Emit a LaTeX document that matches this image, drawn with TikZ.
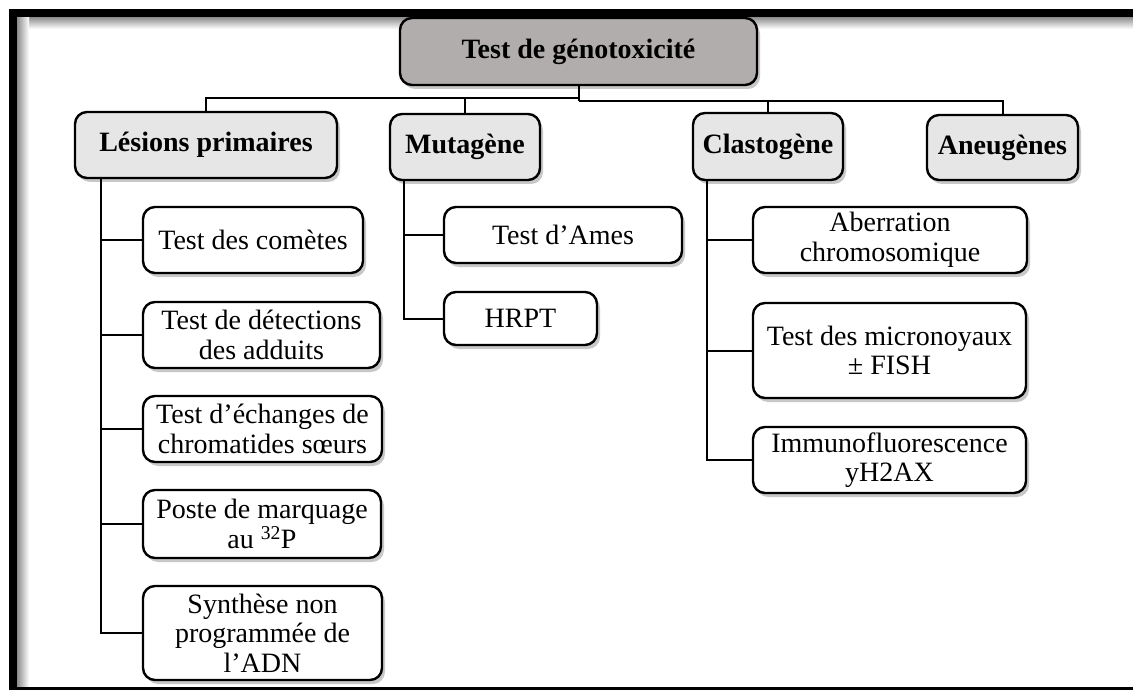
\documentclass[tikz,border=0pt]{standalone}
\usepackage{fontspec}
\setmainfont{Liberation Serif}
\usetikzlibrary{shadows,calc}
\tikzset{
  base/.style={draw=black, line width=2.4pt, rounded corners=12pt, inner sep=0pt, align=center,
    font=\fontsize{28}{29.5}\selectfont,
    drop shadow={shadow xshift=3pt, shadow yshift=-4pt, opacity=0.3, fill=black!70}},
  rootbox/.style={base, fill=rootgray, font=\fontsize{28}{29.5}\selectfont\bfseries},
  catbox/.style={base, fill=catgray, font=\fontsize{28}{29.5}\selectfont\bfseries},
  leafbox/.style={base, fill=white},
  conn/.style={draw=black, line width=2pt}
}
\definecolor{rootgray}{HTML}{B1ADAC}
\definecolor{catgray}{HTML}{E6E6E6}
\begin{document}
\begin{tikzpicture}[x=1pt,y=-1pt]
\useasboundingbox (0,0) rectangle (1133,690);
\fill[white] (0,0) rectangle (1133,690);
% frame
\shade[top color=black!45, bottom color=white] (17,17) rectangle (1133,29);
\shade[left color=black!45, right color=white] (17,17) rectangle (29,688);
\fill[black] (9,9) rectangle (1133,17);
\fill[black] (9,9) rectangle (17,690);
\fill[black] (17,687) rectangle (1133,689.5);

% nodes
\node[rootbox, minimum width=357pt, minimum height=67pt] (root) at (578.5,51.5) {Test de génotoxicité};
\node[catbox, minimum width=262pt, minimum height=66pt] (les) at (206,145) {Lésions primaires};
\node[catbox, minimum width=150pt, minimum height=66pt] (mut) at (465,147) {Mutagène};
\node[catbox, minimum width=150pt, minimum height=67pt] (cla) at (768,146.5) {Clastogène};
\node[catbox, minimum width=151pt, minimum height=65pt] (ane) at (1002.5,147.5) {Aneugènes};

\node[leafbox, minimum width=220pt, minimum height=66pt] (comet) at (253,240) {Test des comètes};
\node[leafbox, minimum width=237pt, minimum height=66pt] (add) at (261.5,335) {Test de détections\\des adduits};
\node[leafbox, minimum width=239pt, minimum height=66pt] (ech) at (262.5,429) {Test d’échanges de\\chromatides sœurs};
\node[leafbox, minimum width=238pt, minimum height=68pt] (poste) at (262,524) {Poste de marquage\\au \textsuperscript{32}P};
\node[leafbox, minimum width=239pt, minimum height=94pt] (synth) at (262.5,633) {Synthèse non\\programmée de\\l’ADN};

\node[leafbox, minimum width=238pt, minimum height=56pt] (ames) at (563,235) {Test d’Ames};
\node[leafbox, minimum width=153pt, minimum height=53pt] (hrpt) at (520.5,318.5) {HRPT};

\node[leafbox, minimum width=274pt, minimum height=66pt] (aber) at (890,240) {Aberration\\chromosomique};
\node[leafbox, minimum width=273pt, minimum height=95pt] (micro) at (889.5,350.5) {Test des micronoyaux\\± FISH};
\node[leafbox, minimum width=273pt, minimum height=66pt] (immu) at (889.5,460) {Immunofluorescence\\yH2AX};

% connectors
\coordinate (jl) at ($(root.south)+(0,12)$);
\coordinate (jr) at ($(root.south)+(0,15)$);
\draw[conn] (root.south) -- (jr);
\draw[conn] (jl) -| (les.north);
\draw[conn] (jl) -| (mut.north);
\draw[conn] (jr) -| (cla.north);
\draw[conn] (jr) -| (ane.north);

\coordinate (lv) at ($(les.south west)+(27,0)$);
\draw[conn] (lv) |- (comet.west);
\draw[conn] (lv) |- (add.west);
\draw[conn] (lv) |- (ech.west);
\draw[conn] (lv) |- (poste.west);
\draw[conn] (lv) |- (synth.west);

\coordinate (mv) at ($(mut.south west)+(15,0)$);
\draw[conn] (mv) |- (ames.west);
\draw[conn] (mv) |- (hrpt.west);

\coordinate (cv) at ($(cla.south west)+(15,0)$);
\draw[conn] (cv) |- (aber.west);
\draw[conn] (cv) |- (micro.west);
\draw[conn] (cv) |- (immu.west);
\end{tikzpicture}
\end{document}
